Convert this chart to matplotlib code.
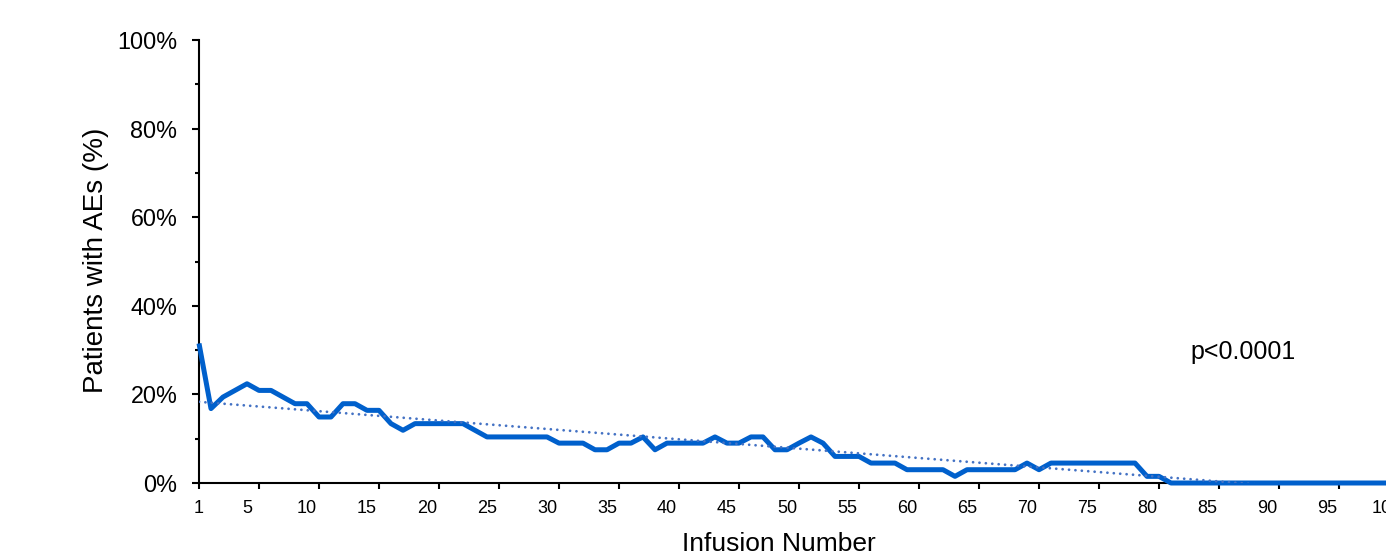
import numpy as np
import matplotlib
matplotlib.use("Agg")
import matplotlib.pyplot as plt
from matplotlib.ticker import FixedLocator, FuncFormatter

plt.rcParams['font.family'] = ['Liberation Sans', 'DejaVu Sans']

# ---- data ----
infusion = list(range(1, 101))
pct_ae = [31.5, 16.8, 19.4, 20.9, 22.4, 20.9, 20.9, 19.4, 17.9, 17.9,
          14.9, 14.9, 17.9, 17.9, 16.4, 16.4, 13.4, 11.9, 13.4, 13.4,
          13.4, 13.4, 13.4, 11.9, 10.4, 10.4, 10.4, 10.4, 10.4, 10.4,
          9.0, 9.0, 9.0, 7.5, 7.5, 9.0, 9.0, 10.4, 7.5, 9.0,
          9.0, 9.0, 9.0, 10.4, 9.0, 9.0, 10.4, 10.4, 7.5, 7.5,
          9.0, 10.4, 9.0, 6.0, 6.0, 6.0, 4.5, 4.5, 4.5, 3.0,
          3.0, 3.0, 3.0, 1.5, 3.0, 3.0, 3.0, 3.0, 3.0, 4.5,
          3.0, 4.5, 4.5, 4.5, 4.5, 4.5, 4.5, 4.5, 4.5, 1.5,
          1.5, 0, 0, 0, 0, 0, 0, 0, 0, 0,
          0, 0, 0, 0, 0, 0, 0, 0, 0, 0]
x_labels = [1, 5, 10, 15, 20, 25, 30, 35, 40, 45, 50, 55, 60, 65, 70, 75, 80, 85, 90, 95, 100]
y_ticks = [0, 20, 40, 60, 80, 100]
annotation = "p<0.0001"

W, H = 1386, 556
fig = plt.figure(figsize=(W / 100, H / 100), dpi=100)
ax = fig.add_axes([199 / W, (556 - 483) / H, (1387 - 199) / W, 443 / H])

line_color = '#0060CC'
trend_color = '#4472C4'

x = np.array(infusion, dtype=float)
y = np.array(pct_ae, dtype=float)
ax.plot(x, y, color=line_color, lw=3.6, solid_joinstyle='round',
        solid_capstyle='butt', zorder=4, clip_on=False)

# linear trendline
k, b = np.polyfit(x, y, 1)
ax.plot(x, k * x + b, color=trend_color, lw=2.0,
        linestyle=(0, (0.01, 2.3)), dash_capstyle='round', zorder=5)

ax.set_xlim(1, 100)
ax.set_ylim(0, 100)

# y axis
ax.set_yticks(y_ticks)
ax.yaxis.set_major_formatter(FuncFormatter(lambda v, p: f"{int(v)}%"))
ax.yaxis.set_minor_locator(FixedLocator([10, 30, 50, 70, 90]))
ax.tick_params(axis='y', which='major', direction='out', length=5.3, width=1.5,
               labelsize=16.8, pad=10.3)
ax.tick_params(axis='y', which='minor', direction='out', length=3, width=1.5)

# x axis: labels at 1,5,10... ; tick marks at 1,6,11,...
ax.xaxis.remove_overlapping_locs = False
ax.set_xticks(x_labels)
ax.set_xticklabels([str(v) for v in x_labels])
ax.xaxis.set_minor_locator(FixedLocator(list(range(1, 101, 5))))
ax.tick_params(axis='x', which='major', length=0, labelsize=13, pad=12.5)
ax.tick_params(axis='x', which='minor', direction='out', length=4.5, width=1.5)

for s in ['top', 'right']:
    ax.spines[s].set_visible(False)
for s in ['left', 'bottom']:
    ax.spines[s].set_linewidth(1.5)
    ax.spines[s].set_color('black')

fig.text(96 / W, (556 - 260.5) / H, "Patients with AEs (%)", rotation=90,
         ha='center', va='center', fontsize=20)
fig.text(779 / W, (556 - 532) / H, "Infusion Number", ha='center', va='top',
         fontsize=19)

ax.text(83.6, 27.9, annotation, fontsize=18, ha='left', va='baseline')

fig.savefig("out.png", dpi=100)
